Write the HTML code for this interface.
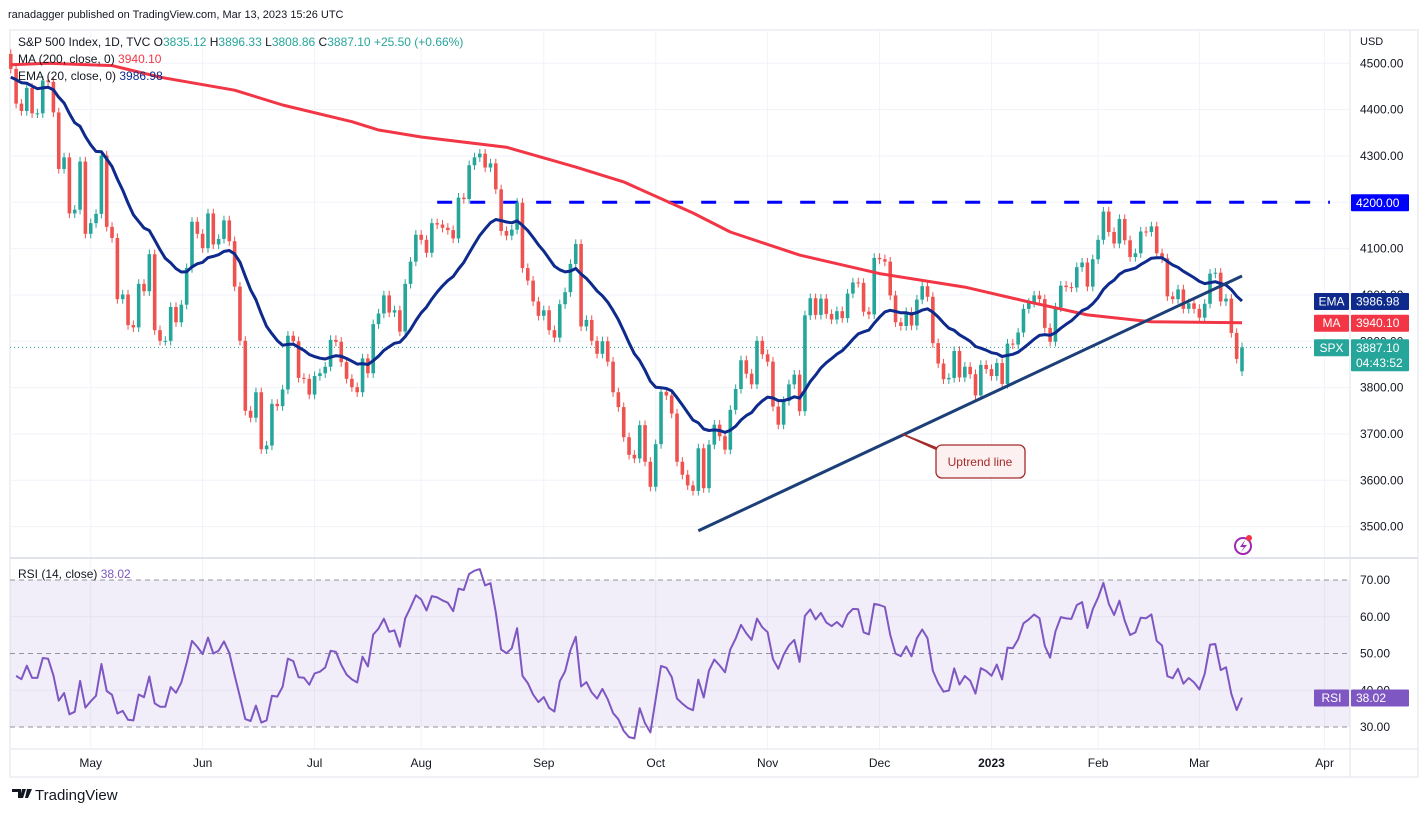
<!DOCTYPE html>
<html><head><meta charset="utf-8"><style>
body{margin:0;background:#fff;font-family:"Liberation Sans",Arial,sans-serif;}
svg text{font-family:"Liberation Sans",Arial,sans-serif;}
</style></head><body>
<svg id="c" width="1428" height="812" viewBox="0 0 1428 812" xmlns="http://www.w3.org/2000/svg">
<defs><clipPath id="rsiClip"><rect x="10" y="559" width="1340" height="189"/></clipPath></defs>
<rect x="0" y="0" width="1428" height="812" fill="#fff"/>
<text x="8" y="18" font-size="11" fill="#131722">ranadagger published on TradingView.com, Mar 13, 2023 15:26 UTC</text>
<rect x="10" y="30" width="1408" height="747" fill="none" stroke="#e0e3eb"/>
<g id="grid"></g>
<rect x="10" y="580" width="1340" height="147" fill="rgba(126,87,194,0.1)"/>
<g id="rsiLines"></g>
<line x1="10" y1="558" x2="1418" y2="558" stroke="#e0e3eb" stroke-width="2"/>
<line x1="10" y1="749" x2="1418" y2="749" stroke="#e0e3eb"/>
<line x1="1350" y1="30" x2="1350" y2="777" stroke="#e0e3eb"/>
<g id="marks"></g>
<g id="rsiMarks" clip-path="url(#rsiClip)"></g>
<g id="labels"></g>
<g font-size="12">
<text x="18" y="46" fill="#131722">S&amp;P 500 Index, 1D, TVC <tspan fill="#131722">O</tspan><tspan fill="#26a69a">3835.12</tspan> <tspan fill="#131722">H</tspan><tspan fill="#26a69a">3896.33</tspan> <tspan fill="#131722">L</tspan><tspan fill="#26a69a">3808.86</tspan> <tspan fill="#131722">C</tspan><tspan fill="#26a69a">3887.10 +25.50 (+0.66%)</tspan></text>
<text x="18" y="63" fill="#131722">MA (200, close, 0) <tspan fill="#f23645">3940.10</tspan></text>
<text x="18" y="80" fill="#131722">EMA (20, close, 0) <tspan fill="#0d2a8c">3986.98</tspan></text>
<text x="18" y="578" fill="#131722">RSI (14, close) <tspan fill="#7e57c2">38.02</tspan></text>
</g>
<text x="1360" y="45" font-size="11" fill="#131722">USD</text>
<g>
<path d="M902,434 L942,452 L942,450 Z" fill="#a52a2a" stroke="#a52a2a" stroke-width="1.5"/>
<rect x="936" y="445" width="89" height="33" rx="6" fill="#fdf0f0" stroke="#a52a2a" stroke-width="1.3"/>
<text x="980" y="466" font-size="12" fill="#a52a2a" text-anchor="middle">Uptrend line</text>
</g>
<g>
<circle cx="1243" cy="546" r="8" fill="none" stroke="#9c27b0" stroke-width="2"/>
<path d="M1245,540 L1240,547 L1244,547 L1241,552 L1247,545 L1243,545 Z" fill="#9c27b0"/>
<circle cx="1249" cy="538" r="3" fill="#f23645"/>
</g>
<g>
<path d="M12,789 h9 v9 h-3 v-6 h-6 Z M22,789 h4 l-3,9 h-3 Z M27,789 h5 l-4,9 h-3 Z" fill="#131722"/>
<text x="35" y="800" font-size="15" fill="#131722">TradingView</text>
</g>
</svg>
<script>
const closes=[4488,4413,4397,4447,4392,4392,4463,4460,4394,4272,4297,4176,4184,4288,4132,
4155,4175,4301,4147,4123,3991,4001,3935,3930,4024,4008,4088,3924,3901,3901,3974,3941,3979,4058,4158,4132,
4101,4176,4109,4121,4161,4116,4018,3901,3750,3735,3790,3667,3675,3765,3760,3796,3912,3900,3821,3819,3785,
3825,3831,3845,3903,3899,3855,3819,3801,3790,3863,3831,3937,3960,3999,3962,3967,3921,4024,4072,4130,
4119,4091,4155,4152,4145,4140,4122,4210,4207,4280,4297,4305,4275,4284,4228,4138,4128,4141,4199,4058,4031,3986,3955,
3967,3924,3908,3980,4006,4067,4110,3932,3946,3901,3873,3900,3856,3790,3758,3693,3655,3647,3719,3640,3586,
3678,3791,3783,3744,3640,3612,3589,3577,3669,3583,3677,3720,3695,3666,3752,3797,3859,3830,3807,3901,3872,
3856,3759,3720,3771,3807,3828,3749,3956,3993,3957,3992,3959,3947,3965,3950,4003,4027,4026,3964,3958,4080,
4077,4072,3999,3941,3933,3963,3934,3990,4019,3996,3896,3852,3818,3821,3879,3822,3845,3829,3783,3849,3840,
3825,3853,3808,3895,3893,3919,3970,3983,3999,3991,3929,3899,3973,4020,4017,4016,4060,4070,4018,4077,
4119,4180,4136,4111,4164,4118,4082,4090,4137,4136,4148,4090,4079,3997,3991,4012,3970,3982,3970,
3951,3981,4046,4048,3986,3992,3918,3862,3887];
const firstOpen=4520;
const lastOpen=3835.12;
const ma200Points=[[0,4497],[7,4500],[19,4495],[28,4470],[42,4442],[51,4410],[64,4374],[69,4356],[77,4341],[93,4319],[106,4276],[115,4244],[128,4177],[135,4136],[148,4086],[163,4046],[179,4017],[191,3985],[202,3957],[214,3942],[231,3940]];
const priceTicks=[4500,4400,4300,4200,4100,4000,3900,3800,3700,3600,3500];
const rsiTicks=[70,60,50,40,30];
const monthLabels=["May","Jun","Jul","Aug","Sep","Oct","Nov","Dec","2023","Feb","Mar","Apr"];
const monthBars=[15,36,57,77,100,121,142,163,184,204,223,246.5];
const resistance=4200, resistanceFrom=80, resistanceTo=247.5;
const trendStart=[129,3491], trendEnd=[231,4041];
const emaSeed=4470;
const rsiSeedGain=28, rsiSeedLoss=30;

const N=closes.length;
const X=i=>1242-(N-1-i)*5.33;
const Y=p=>202.3+(4200-p)*0.4633;
const RY=v=>580+(70-v)*3.675;
const NS="http://www.w3.org/2000/svg";
function mk(parent,tag,attrs){const e=document.createElementNS(NS,tag);for(const k in attrs)e.setAttribute(k,attrs[k]);document.getElementById(parent).appendChild(e);return e;}

monthBars.forEach((b,k)=>{
  const l=mk('grid','line',{x1:X(b),x2:X(b),y1:30,y2:749,stroke:'#f0f3fa'});
  
  
  const t=mk('labels','text',{x:X(b),y:767,'font-size':12,fill:'#131722','text-anchor':'middle','font-weight':monthLabels[k]==='2023'?'bold':'normal'});
  t.textContent=monthLabels[k];
  
  
});
priceTicks.forEach(p=>{
  const l=mk('grid','line',{x1:10,x2:1350,y1:Y(p),y2:Y(p),stroke:'#f0f3fa'});
  
  
  const t=mk('labels','text',{x:1360,y:Y(p)+4,'font-size':12,fill:'#131722'});
  t.textContent=p.toFixed(2);
  
  
});
rsiTicks.forEach(v=>{
  const dashed=(v===70||v===50||v===30);
  const l=mk('rsiLines','line',{x1:10,x2:1350,y1:RY(v),y2:RY(v),stroke:dashed?'#787b86':'#e6e1f2','stroke-dasharray':dashed?'5,4':'none','stroke-opacity':dashed?0.8:1});
  
  
  const t=mk('labels','text',{x:1360,y:RY(v)+4,'font-size':12,fill:'#131722'});
  t.textContent=v.toFixed(2);
  
  
});

{const l=mk('marks','line',{x1:10,x2:1350,y1:Y(closes[N-1]),y2:Y(closes[N-1]),stroke:'#26a69a','stroke-dasharray':'1,3'});
}

{const l=mk('marks','line',{x1:X(resistanceFrom),x2:X(resistanceTo),y1:Y(resistance),y2:Y(resistance),stroke:'#0000ff','stroke-width':3,'stroke-dasharray':'15,18'});
}

for(let i=0;i<N;i++){
  const o=i===N-1?lastOpen:(i===0?firstOpen:closes[i-1]);
  const c=closes[i];
  const up=c>=o, col=up?'#26a69a':'#ef5350';
  const hi=Math.max(o,c)+10, lo=Math.min(o,c)-10;
  const g=mk('marks','g',{});
  
  
  const w=document.createElementNS(NS,'line');
  w.setAttribute('x1',X(i));w.setAttribute('x2',X(i));w.setAttribute('y1',Y(hi));w.setAttribute('y2',Y(lo));w.setAttribute('stroke',col);
  g.appendChild(w);
  const b=document.createElementNS(NS,'rect');
  const yt=Y(Math.max(o,c)),yb=Y(Math.min(o,c));
  b.setAttribute('x',X(i)-1.8);b.setAttribute('width',3.6);b.setAttribute('y',yt);b.setAttribute('height',Math.max(1,yb-yt));b.setAttribute('fill',col);
  g.appendChild(b);
}

{const d=ma200Points.map((p,k)=>(k?'L':'M')+X(p[0]).toFixed(1)+','+Y(p[1]).toFixed(1)).join(' ');
const l=mk('marks','path',{d:d,fill:'none',stroke:'#f23645','stroke-width':3,'stroke-linejoin':'round'});
}

{let e=emaSeed;const a=2/21;const pts=[];
for(let i=0;i<N;i++){e=i===0?emaSeed:closes[i]*a+e*(1-a);pts.push((i?'L':'M')+X(i).toFixed(1)+','+Y(e).toFixed(1));}
const l=mk('marks','path',{d:pts.join(' '),fill:'none',stroke:'#0d2a8c','stroke-width':3,'stroke-linejoin':'round'});
}

{const l=mk('marks','line',{x1:X(trendStart[0]),y1:Y(trendStart[1]),x2:X(trendEnd[0]),y2:Y(trendEnd[1]),stroke:'#1c3f78','stroke-width':3});
}

{let ag=rsiSeedGain,al=rsiSeedLoss;const pts=[];
for(let i=1;i<N;i++){const d=closes[i]-closes[i-1];const g=Math.max(d,0),ls=Math.max(-d,0);
 ag=(ag*13+g)/14;al=(al*13+ls)/14;
 const r=al===0?100:100-100/(1+ag/al);
 pts.push((pts.length?'L':'M')+X(i).toFixed(1)+','+RY(r).toFixed(1));}
const l=mk('rsiMarks','path',{d:pts.join(' '),fill:'none',stroke:'#7e57c2','stroke-width':2,'stroke-linejoin':'round'});
}

function tag(name,label,value,y,color,h,sub){
  const g=mk('labels','g',{});
  
  
  const add=(t,a)=>{const e=document.createElementNS(NS,t);for(const k in a)e.setAttribute(k,a[k]);g.appendChild(e);return e;};
  if(label){add('rect',{x:1314,y:y-8,width:35,height:17,fill:color,rx:1});
    add('text',{x:1331.5,y:y+4.5,'font-size':12,fill:'#fff','text-anchor':'middle'}).textContent=label;}
  add('rect',{x:1351,y:y-8,width:58,height:h||17,fill:color,rx:1});
  add('text',{x:1356,y:y+4.5,'font-size':12,fill:'#fff'}).textContent=value;
  if(sub)add('text',{x:1356,y:y+19.5,'font-size':12,fill:'#fff'}).textContent=sub;
}
tag('resistance-price-tag','', '4200.00',Y(4200),'#0000ff');
tag('ema-tag','EMA','3986.98',Y(3986.98),'#0d2a8c');
tag('ma-tag','MA','3940.10',Y(3940.10),'#f23645');
tag('spx-tag','SPX','3887.10',Y(3887.10),'#26a69a',32,'04:43:52');
tag('rsi-tag','RSI','38.02',RY(38.02),'#7e57c2');
</script>
</body></html>
